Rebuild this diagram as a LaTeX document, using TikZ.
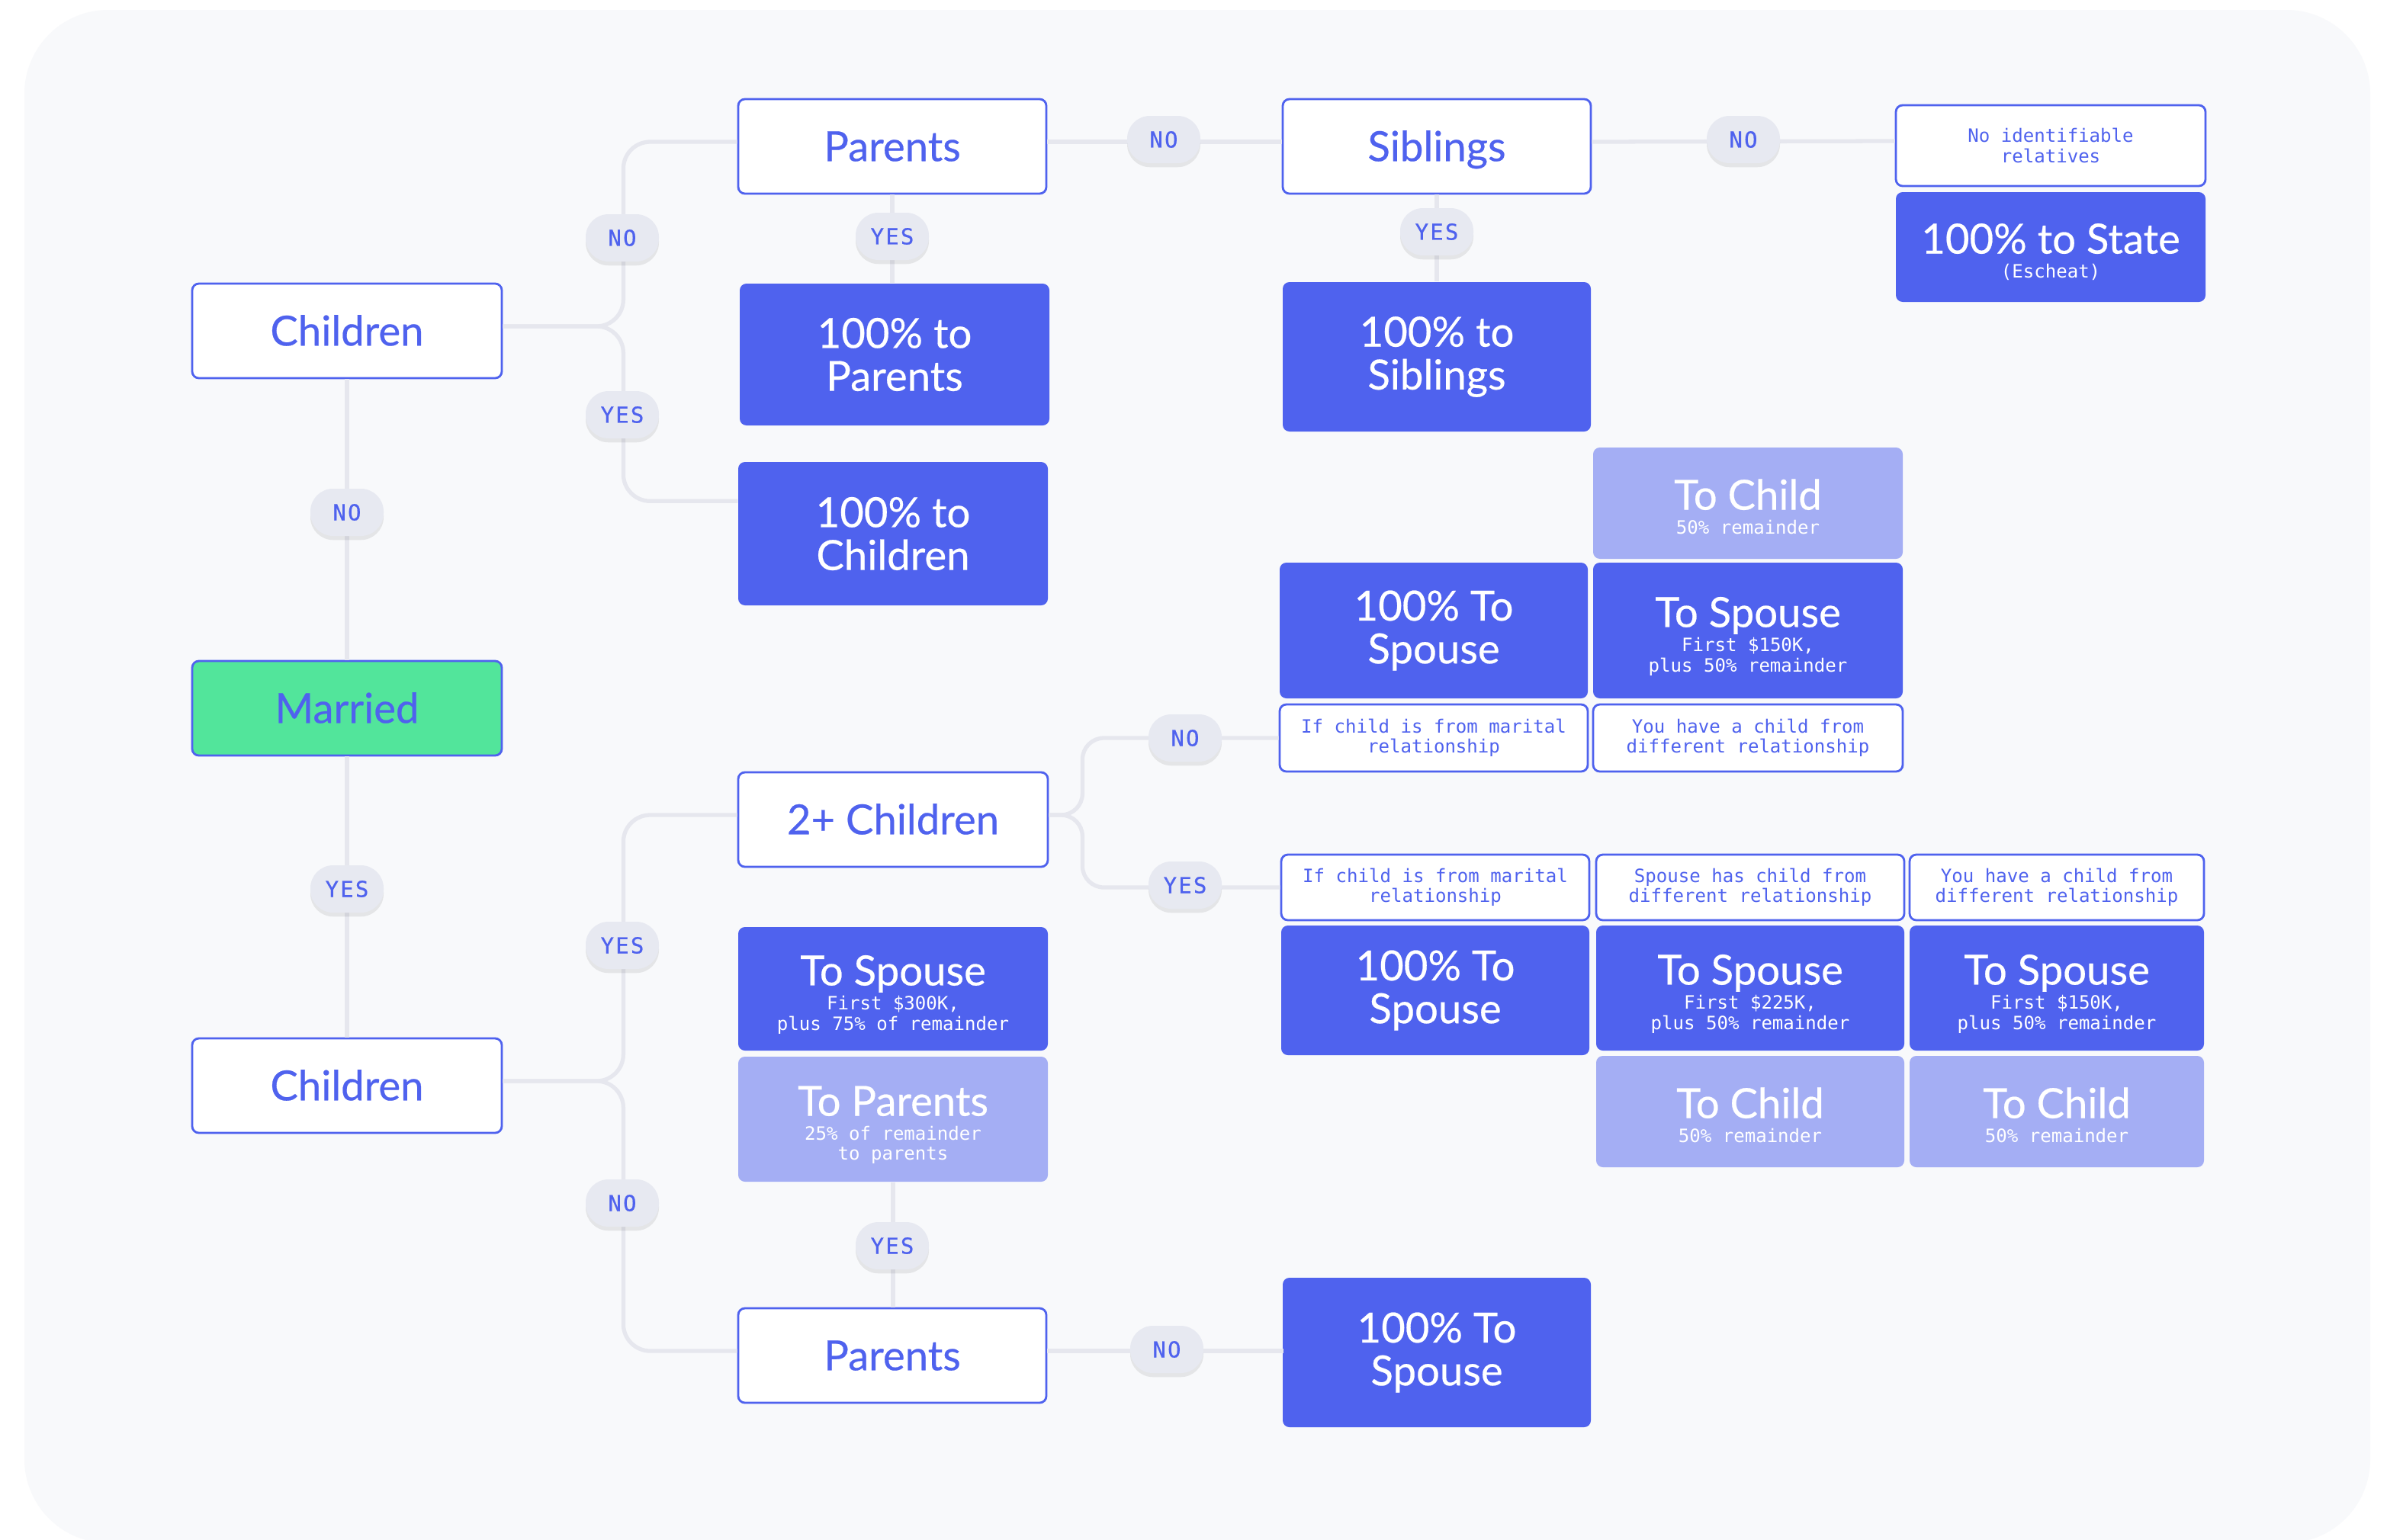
\documentclass[tikz,border=0pt]{standalone}
\usepackage{fontspec}
\setmainfont{Lato}[FakeBold=0.4]
\newfontfamily\mofont{DejaVu Sans Mono}
\newfontfamily\pillfont[LetterSpace=8,FakeBold=0.6]{DejaVu Sans Mono}
\usetikzlibrary{calc,shadows}

\definecolor{panel}{HTML}{F8F9FB}
\definecolor{brand}{HTML}{4F62EE}
\definecolor{soft}{HTML}{A4AEF4}
\definecolor{mint}{HTML}{52E59B}
\definecolor{chip}{HTML}{E7E9F1}
\definecolor{wire}{HTML}{E6E7EE}

\newcommand{\subtxt}[1]{{\mofont\fontsize{6.85}{7.4}\selectfont\begin{tabular}[t]{@{}c@{}}#1\end{tabular}}}
\newcommand{\hs}[2]{\rule{0pt}{16.3pt}#1\\[-6.8pt]\subtxt{#2}}

\begin{document}
\begin{tikzpicture}[x=0.02cm, y=-0.02cm,
  sz/.style 2 args={minimum width=#1*0.02cm, minimum height=#2*0.02cm},
  box/.style={rectangle, rounded corners=2.5pt, inner sep=0pt, align=center, font=\fontsize{15.5}{16}\selectfont},
  wbox/.style={box, fill=white, draw=brand, line width=0.8pt, text=brand, sz={203}{62}, text height=11pt, text depth=0pt},
  bbox/.style={box, fill=brand, text=white},
  lbox/.style={box, fill=soft, text=white},
  gbox/.style={wbox, fill=mint},
  nbox/.style={box, fill=white, draw=brand, line width=0.8pt, text=brand, font=\mofont\fontsize{6.85}{7.5}\selectfont},
  pill/.style={rectangle, rounded corners=8.5pt, fill=chip, text=brand, inner sep=0pt, sz={48}{31},
    font=\pillfont\fontsize{8.2}{9}\selectfont,
    drop shadow={shadow xshift=0pt, shadow yshift=-1.5pt, opacity=0.08, fill=black}},
  conn/.style={draw=wire, line width=1.5pt, rounded corners=10pt}]
  \fill[white] (0,0) rectangle (1565,1009.5);
  \useasboundingbox (0,0) rectangle (1565,1009.5);
  \fill[panel, rounded corners=1.1cm] (16,6.5) rectangle (1554,1012);

  \node[wbox] (ch1) at (227.5,217) {Children};
  \node[wbox, sz={202}{62}] (par1) at (585,96) {Parents};
  \node[wbox, sz={202}{62}] (sib) at (942,96) {Siblings};
  \node[nbox, sz={203}{53}] (noid) at (1344.5,95.5) {No identifiable\\relatives};
  \node[bbox, sz={203}{72}] (state) at (1344.5,162) {\hs{100\% to State}{(Escheat)}};
  \node[bbox, sz={203}{93}] (pp) at (586.5,232.5) {100\% to\\Parents};
  \node[bbox, sz={202}{98}] (ps) at (942,234) {100\% to\\Siblings};
  \node[bbox, sz={203}{94}] (pc) at (585.5,350) {100\% to\\Children};

  \node[lbox, sz={203}{73}] (tc1) at (1146,330) {\hs{To Child}{50\% remainder}};
  \node[bbox, sz={202}{89}] (sp1) at (940,413.5) {100\% To\\Spouse};
  \node[bbox, sz={203}{89}] (ts1) at (1146,413.5) {\hs{To Spouse}{First \$150K,\\plus 50\% remainder}};
  \node[nbox, sz={202}{44}] (cm1) at (940,484) {If child is from marital\\relationship};
  \node[nbox, sz={203}{44}] (cd1) at (1146,484) {You have a child from\\different relationship};

  \node[gbox] (mar) at (227.5,464.5) {Married};
  \node[wbox] (two) at (585.5,537.5) {2+ Children};
  \node[nbox, sz={202}{43}] (cm2) at (941,582) {If child is from marital\\relationship};
  \node[nbox, sz={202}{43}] (sd2) at (1147.5,582) {Spouse has child from\\different relationship};
  \node[nbox, sz={193}{43}] (cd2) at (1348.5,582) {You have a child from\\different relationship};
  \node[bbox, sz={202}{85}] (sp2) at (941,649.5) {100\% To\\Spouse};
  \node[bbox, sz={202}{82}] (ts2) at (1147.5,648) {\hs{To Spouse}{First \$225K,\\plus 50\% remainder}};
  \node[bbox, sz={193}{82}] (ts3) at (1348.5,648) {\hs{To Spouse}{First \$150K,\\plus 50\% remainder}};
  \node[lbox, sz={202}{73}] (tc2) at (1147.5,729) {\hs{To Child}{50\% remainder}};
  \node[lbox, sz={193}{73}] (tc3) at (1348.5,729) {\hs{To Child}{50\% remainder}};

  \node[wbox] (ch2) at (227.5,712) {Children};
  \node[bbox, sz={203}{81}] (tsp) at (585.5,648.5) {\hs{To Spouse}{First \$300K,\\plus 75\% of remainder}};
  \node[lbox, sz={203}{82}] (tpa) at (585.5,734) {\hs{To Parents}{25\% of remainder\\to parents}};
  \node[wbox, sz={202}{62}] (par2) at (585,889) {Parents};
  \node[bbox, sz={202}{98}] (sp3) at (942,887) {100\% To\\Spouse};

  \draw[conn] ([yshift=.06cm]ch1.east) -- ++(79,0) |- ([yshift=.06cm]par1.west);
  \draw[conn] ([yshift=.06cm]ch1.east) -- ++(79,0) |- ($(pc.north west)+(0,26)$);
  \draw[conn] ([yshift=.06cm]par1.east) -- ([yshift=.06cm]sib.west);
  \draw[conn] ([yshift=.06cm]sib.east) -- ([yshift=.06cm]noid.west);
  \draw[conn] ([yshift=.06cm]ch2.east) -- ++(79,0) |- ([yshift=.06cm]two.west);
  \draw[conn] ([yshift=.06cm]ch2.east) -- ++(79,0) |- ([yshift=.06cm]par2.west);
  \draw[conn, rounded corners=8pt] ([yshift=.06cm]two.east) -- ++(22,0) |- (cm1.west);
  \draw[conn, rounded corners=8pt] ([yshift=.06cm]two.east) -- ++(22,0) |- (cm2.west);
  \draw[conn] ([yshift=.06cm]par2.east) -- ++(155,0);
  \foreach \a/\b in {par1/pp, sib/ps, ch1/mar, mar/ch2, tpa/par2}
    \draw[conn] (\a.south) -- (\a.south |- \b.north);

  \foreach \n/\t/\x/\y in {nA/NO/763/91.5, nB/NO/1143/91.5, nC/NO/408/156, yA/YES/585/155,
      yB/YES/942/152, yC/YES/408/272, nD/NO/227.5/336, yD/YES/227.5/583, nE/NO/777/484,
      yE/YES/777/580.5, yF/YES/408/620, nF/NO/408/789, yG/YES/585/817, nG/NO/765/885}
    \node[pill] (\n) at (\x,\y) {\t};
\end{tikzpicture}
\end{document}
